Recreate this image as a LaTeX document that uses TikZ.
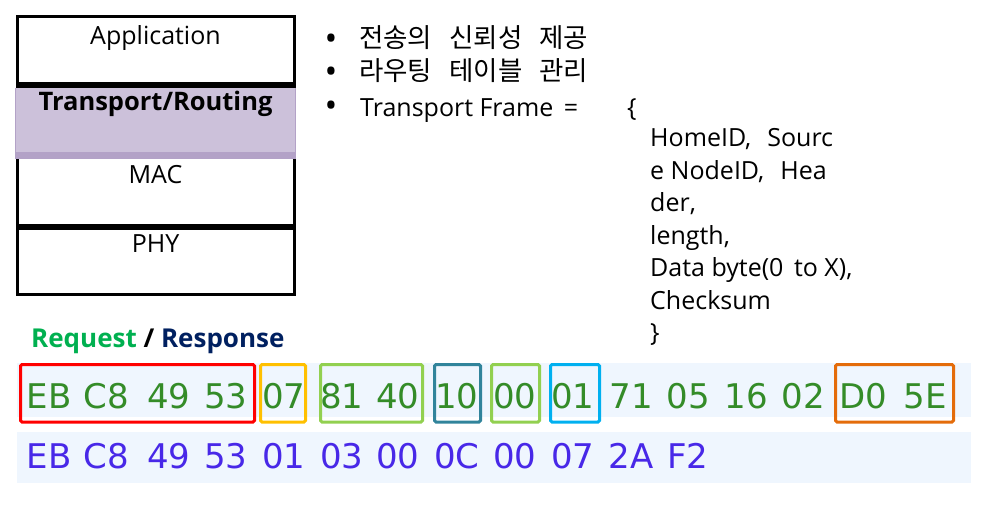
\documentclass[tikz,border=0pt]{standalone}
\usepackage{fontspec}
\setmainfont{Open Sans}
\newfontfamily\krfont{Noto Sans CJK KR}
\newfontfamily\hexfont{DejaVu Sans}
\definecolor{purfill}{RGB}{204,193,218}
\definecolor{purband}{RGB}{179,162,199}
\definecolor{rowbg}{RGB}{239,246,254}
\definecolor{reqgreen}{RGB}{0,176,80}
\definecolor{resnavy}{RGB}{0,32,96}
\definecolor{hexgreen}{RGB}{52,140,40}
\definecolor{hexblue}{RGB}{72,40,232}
\definecolor{bxred}{RGB}{255,0,0}
\definecolor{bxyellow}{RGB}{255,192,0}
\definecolor{bxgreen}{RGB}{146,208,80}
\definecolor{bxteal}{RGB}{49,132,155}
\definecolor{bxcyan}{RGB}{0,176,240}
\definecolor{bxorange}{RGB}{228,108,10}
\begin{document}
\begin{tikzpicture}[x=1pt,y=-1pt,
  txt/.style={inner sep=0pt, font=\fontsize{25}{30}\selectfont},
  bul/.style={inner sep=0pt, anchor=base, font=\fontsize{34}{30}\selectfont},
  krtxt/.style={inner sep=0pt, font=\fontsize{26.5}{30}\krfont},
  hexA/.style={inner sep=0pt, anchor=base, text=hexgreen, font=\fontsize{34}{40}\hexfont},
  hexB/.style={inner sep=0pt, anchor=base, text=hexblue, font=\fontsize{34}{40}\hexfont},
  hexbox/.style={draw=#1, line width=3pt, rounded corners=1.5pt}]
\useasboundingbox (0,0) rectangle (990,523);
% ---- layer stack ----
\draw[line width=3pt] (17,16) rectangle (294,294);
\draw[line width=6pt] (17,85) -- (294,85);
\draw[line width=6pt] (17,226.5) -- (294,226.5);
\fill[purfill] (15,87.5) rectangle (296,158);
\draw[purband, line width=1pt] (15.5,87.5) -- (15.5,158) (295.5,87.5) -- (295.5,158);
\fill[purband] (15,151.5) rectangle (296,158.5);
\node[txt, anchor=base] (app) at (155.5,44) {Application};
\node[txt, anchor=base, font=\fontsize{25.5}{30}\selectfont\bfseries] (trans) at (155.5,110) {Transport/Routing};
\node[txt, anchor=base] (mac) at (155.5,183) {MAC};
\node[txt, anchor=base] (phy) at (155.5,252) {PHY};
% ---- bullets ----
\node[bul] (b1) at (331,50) {•};
\node[bul] (b2) at (331,83) {•};
\node[bul] (b3) at (331,117) {•};
\node[krtxt, anchor=base west] (t1) at (359,47.5) {전송의\hspace{17pt}신뢰성\hspace{17pt}제공};
\node[krtxt, anchor=base west] (t2) at (359,80.5) {라우팅\hspace{17pt}테이블\hspace{17pt}관리};
\node[txt, anchor=base west] (t3) at (360,116) {Transport Frame\hspace{4pt} =};
\node[txt, anchor=base west] (lb) at (627,116) {\{};
\node[txt, anchor=base west] (f1) at (650,146.5) {HomeID,\hspace{16pt}Sourc};
\node[txt, anchor=base west] (f2) at (650,179) {e NodeID,\hspace{16pt}Hea};
\node[txt, anchor=base west] (f3) at (650,211.5) {der,};
\node[txt, anchor=base west] (f4) at (650,244) {length,};
\node[txt, anchor=base west] (f5) at (650,276.5) {Data byte(0\hspace{4pt} to X),};
\node[txt, anchor=base west] (f6) at (650,309) {Checksum};
\node[txt, anchor=base west] (rb) at (650,341.5) {\}};
% ---- request / response ----
\node[txt, anchor=base west, font=\fontsize{26}{30}\selectfont\bfseries] (rr) at (31,347)
  {\textcolor{reqgreen}{Request} / \textcolor{resnavy}{Response}};
% ---- hex rows ----
\fill[rowbg] (17,363) rectangle (971,417);
\fill[rowbg] (17,432) rectangle (971,483);
\foreach \v/\x [count=\i] in {EB/49,C8/106,49/169,53/226,07/284,81/342,40/398,10/457,00/515,01/573,71/631,05/688,16/746,02/803,D0/863,5E/925}
  \node[hexA] (q\i) at (\x,408) {\v};
\foreach \v/\x [count=\i] in {EB/49,C8/106,49/169,53/226,01/284,03/342,00/398,0C/457,00/515,07/573,2A/631,F2/688}
  \node[hexB] (s\i) at (\x,468) {\v};
\draw[hexbox=bxred] (20.5,364.5) rectangle (254.5,422);
\draw[hexbox=bxyellow] (260.5,364.5) rectangle (305.5,422);
\draw[hexbox=bxgreen] (320.5,364.5) rectangle (422.5,422);
\draw[hexbox=bxteal] (434.5,364.5) rectangle (480.5,422);
\draw[hexbox=bxgreen] (491.5,364.5) rectangle (539.5,422);
\draw[hexbox=bxcyan] (550.5,364.5) rectangle (599.5,422);
\draw[hexbox=bxorange] (835.5,364.5) rectangle (953.5,422);
\end{tikzpicture}
\end{document}
